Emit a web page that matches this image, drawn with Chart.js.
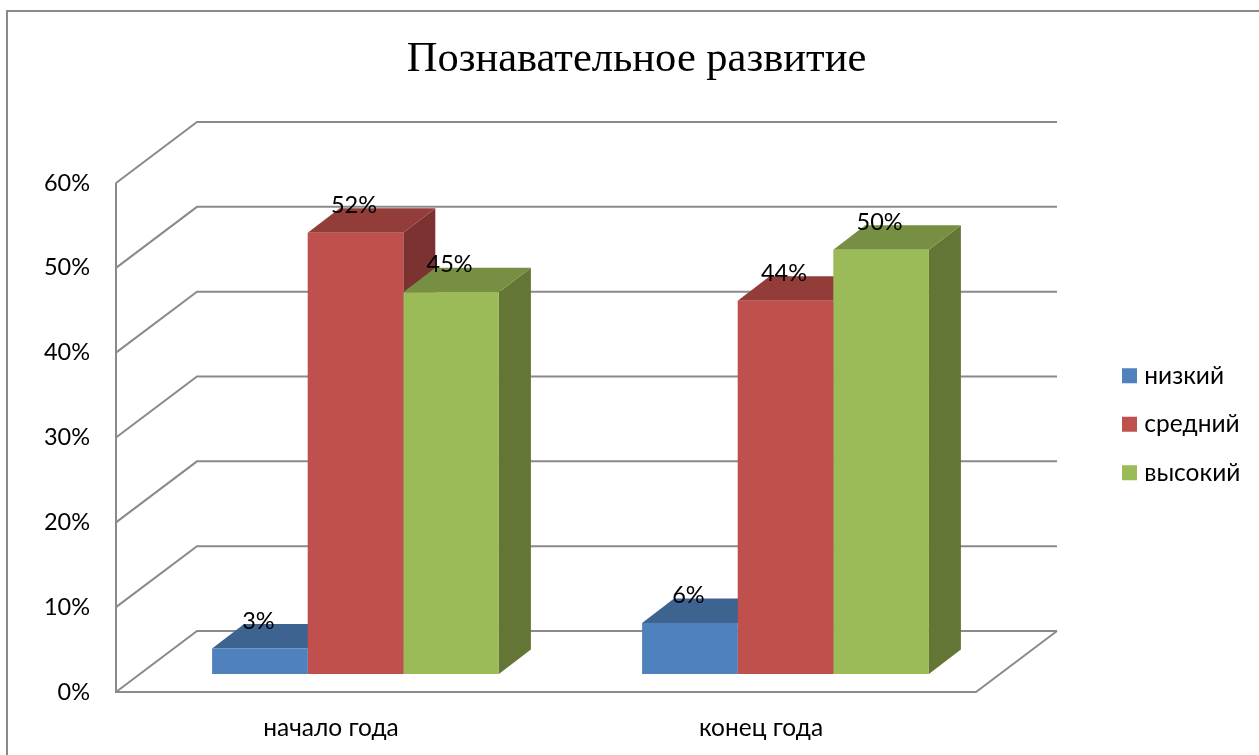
<!DOCTYPE html>
<html><head><meta charset="utf-8">
<script src="https://cdn.jsdelivr.net/npm/chart.js@4"></script>
<style>html,body{margin:0;padding:0;background:#fff;overflow:hidden}canvas{display:block}</style>
</head><body><canvas id="c" width="1259" height="755"></canvas>
<script>
const titleText = 'Познавательное развитие';
const categories = ['начало года', 'конец года'];
const seriesNames = ['низкий', 'средний', 'высокий'];
const lowValues = [3, 6];
const midValues = [52, 44];
const highValues = [45, 50];
const frontColors = ['#4F81BD', '#C0504D', '#9BBB59'];
const topColors = ['#3D6390', '#933D3B', '#768F43'];
const sideColors = ['#32527A', '#7C3230', '#647636'];
const FONT = 'Lato, Carlito, "Noto Sans", sans-serif';
const GRID = '#8A8A8A';
const WALL = {dx: 81, dy: -61};
const BAR_SHIFT = {dx: 24.5, dy: -18};
const BAR_DEPTH = {dx: 32, dy: -24.5};

const depth3d = {
  id: 'depth3d',
  beforeDraw(chart) {
    const c = chart.ctx;
    c.save();
    c.strokeStyle = GRID; c.lineWidth = 2;
    c.strokeRect(7, 11, 3000, 3000);
    c.restore();
  },
  afterLayout(chart) {
    const t = chart.titleBlock;
    t.left = 14; t.right = 1259; t.top = 34; t.bottom = 86;
    const l = chart.legend, p = l.options.labels.padding;
    l.left = 1127 - p; l.right = 1259; l.top = 363.5 - p; l.bottom = 755;
  },
  beforeDatasetsDraw(chart) {
    const c = chart.ctx, a = chart.chartArea, y = chart.scales.y;
    c.save();
    c.strokeStyle = GRID; c.lineWidth = 2; c.lineJoin = 'miter';
    y.ticks.forEach(t => {
      const py = y.getPixelForValue(t.value);
      c.beginPath();
      c.moveTo(a.left, py);
      c.lineTo(a.left + WALL.dx, py + WALL.dy);
      c.lineTo(a.right + WALL.dx, py + WALL.dy);
      c.stroke();
    });
    c.beginPath();
    c.moveTo(a.left, a.top);
    c.lineTo(a.left, a.bottom);
    c.lineTo(a.right, a.bottom);
    c.lineTo(a.right + WALL.dx, a.bottom + WALL.dy);
    c.stroke();
    c.translate(BAR_SHIFT.dx, BAR_SHIFT.dy);
    categories.forEach((_, i) => {
      chart.data.datasets.forEach((ds, d) => {
        const b = chart.getDatasetMeta(d).data[i];
        const L = b.x - b.width / 2, R = b.x + b.width / 2, T = b.y, B = b.base;
        c.fillStyle = sideColors[d];
        c.beginPath();
        c.moveTo(R, T); c.lineTo(R + BAR_DEPTH.dx, T + BAR_DEPTH.dy);
        c.lineTo(R + BAR_DEPTH.dx, B + BAR_DEPTH.dy); c.lineTo(R, B);
        c.closePath(); c.fill();
        c.fillStyle = topColors[d];
        c.beginPath();
        c.moveTo(L, T); c.lineTo(L + BAR_DEPTH.dx, T + BAR_DEPTH.dy);
        c.lineTo(R + BAR_DEPTH.dx, T + BAR_DEPTH.dy); c.lineTo(R, T);
        c.closePath(); c.fill();
      });
    });
  },
  afterDatasetsDraw(chart) {
    const c = chart.ctx;
    c.restore();
    c.save();
    c.font = '23.5px ' + FONT; c.fillStyle = '#000';
    c.textAlign = 'center'; c.textBaseline = 'middle';
    chart.data.datasets.forEach((ds, d) => {
      chart.getDatasetMeta(d).data.forEach((b, i) => {
        c.fillText(ds.data[i] + '%', b.x + BAR_SHIFT.dx - 1.5, b.y + BAR_SHIFT.dy - 27.5);
      });
    });
    c.restore();
  }
};

const seriesValues = [lowValues, midValues, highValues];
const chart = new Chart(document.getElementById('c'), {
  type: 'bar',
  data: {
    labels: categories,
    datasets: seriesNames.map((name, i) => ({
      label: name, data: seriesValues[i],
      backgroundColor: frontColors[i], borderWidth: 0,
      categoryPercentage: 0.667, barPercentage: 1, clip: false
    }))
  },
  options: {
    responsive: false, animation: false, events: [],
    layout: {padding: {left: 0, top: 132, bottom: 0, right: 150}},
    plugins: {
      tooltip: {enabled: false},
      title: {display: true, text: titleText, color: '#000', padding: 0,
        font: {family: '"Liberation Serif", serif', size: 42.5, weight: 'normal'}},
      legend: {position: 'right', align: 'start',
        labels: {color: '#000', font: {family: FONT, size: 24.5}, boxWidth: 5, boxHeight: 5, padding: 24,
          generateLabels(ch) {
            return Chart.defaults.plugins.legend.labels.generateLabels(ch).map(it => {
              it.strokeStyle = it.fillStyle; it.lineWidth = 10; return it;
            });
          }}}
    },
    scales: {
      x: {grid: {display: false}, border: {display: false},
        ticks: {color: '#000', font: {family: FONT, size: 24.5}, padding: 13},
        afterFit(s) { s.height = 63; }},
      y: {min: 0, max: 60, grid: {display: false}, border: {display: false},
        ticks: {stepSize: 10, color: '#000', font: {family: FONT, size: 23.5}, padding: 18,
          callback: v => v + '%'},
        afterFit(s) { s.width = 116; }}
    }
  },
  plugins: [depth3d]
});
chart.options.layout.padding.right += chart.chartArea.right - 976;
chart.update('none');
</script></body></html>
